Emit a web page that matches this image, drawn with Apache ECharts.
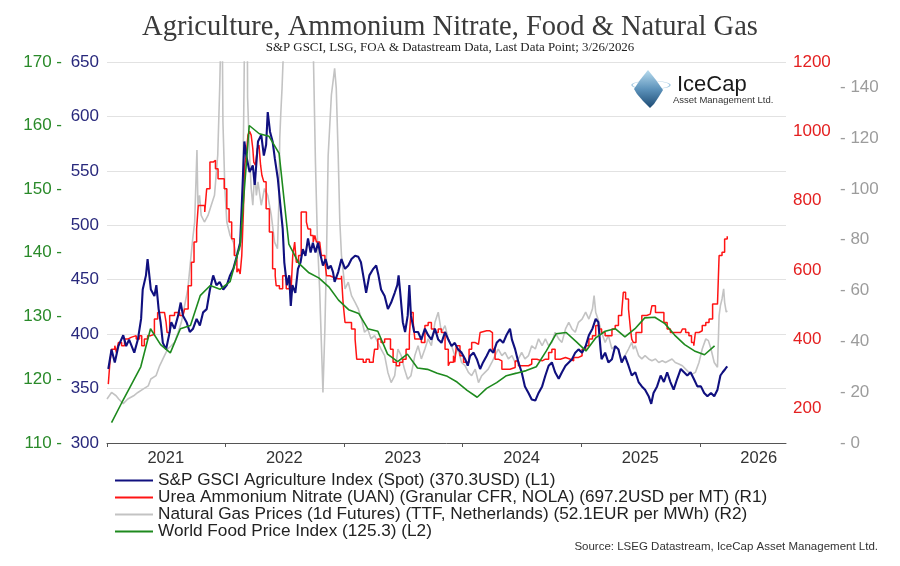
<!DOCTYPE html>
<html>
<head>
<meta charset="utf-8">
<script src="https://cdn.jsdelivr.net/npm/echarts@6/dist/echarts.min.js"></script>
<style>
html,body{margin:0;padding:0;background:#fff;}
#c{width:900px;height:566px;}
</style>
</head>
<body>
<div id="c"></div>
<script>
// ---------------- DATA ----------------
const seriesNames = [
  'S&P GSCI Agriculture Index (Spot) (370.3USD) (L1)',
  'Urea Ammonium Nitrate (UAN) (Granular CFR, NOLA) (697.2USD per MT) (R1)',
  'Natural Gas Prices (1d Futures) (TTF, Netherlands) (52.1EUR per MWh) (R2)',
  'World Food Price Index (125.3) (L2)'
];
const yearLabels = [2021, 2022, 2023, 2024, 2025, 2026];

const agriIndex = [
['2021-01-05',368],['2021-01-15',386],['2021-01-25',374],['2021-02-05',389],['2021-02-20',399],['2021-03-01',389],['2021-03-10',395],['2021-03-26',383],['2021-04-06',395],['2021-04-16',414],['2021-04-21',441],['2021-05-01',454],['2021-05-06',469],['2021-05-16',441],['2021-05-27',435],['2021-06-02',445],['2021-06-09',423],['2021-06-15',411],['2021-06-22',392],['2021-07-02',386],['2021-07-13',402],['2021-07-18',411],['2021-07-28',405],['2021-08-08',417],['2021-08-16',429],['2021-08-23',417],['2021-09-03',411],['2021-09-13',402],['2021-09-23',405],['2021-10-04',414],['2021-10-14',408],['2021-10-24',420],['2021-11-04',423],['2021-11-14',441],['2021-11-24',454],['2021-12-04',445],['2021-12-14',448],['2021-12-25',441],['2022-01-05',445],['2022-01-15',454],['2022-01-25',460],['2022-02-05',472],['2022-02-15',484],['2022-02-20',518],['2022-02-28',577],['2022-03-06',564],['2022-03-16',549],['2022-03-26',555],['2022-04-01',537],['2022-04-11',577],['2022-04-21',583],['2022-04-29',564],['2022-05-06',574],['2022-05-11',604],['2022-05-18',586],['2022-05-26',577],
['2022-06-02',561],['2022-06-11',543],['2022-06-19',518],['2022-06-26',497],['2022-07-01',466],['2022-07-09',445],['2022-07-16',454],['2022-07-21',426],['2022-07-26',445],['2022-08-04',438],['2022-08-12',460],['2022-08-20',466],['2022-08-27',478],['2022-09-04',472],['2022-09-12',488],['2022-09-20',475],['2022-09-27',484],['2022-10-05',475],['2022-10-13',484],['2022-10-21',472],['2022-10-28',463],['2022-11-05',469],['2022-11-13',460],['2022-11-21',463],['2022-11-28',457],['2022-12-03',448],['2022-12-14',457],['2022-12-24',469],['2023-01-04',460],['2023-01-14',463],['2023-01-24',469],['2023-02-04',472],['2023-02-14',471],['2023-02-22',466],['2023-03-01',454],['2023-03-10',438],['2023-03-20',454],['2023-04-01',460],['2023-04-10',463],['2023-04-17',454],['2023-04-25',441],['2023-05-06',435],['2023-05-16',423],['2023-05-26',429],['2023-06-06',438],['2023-06-14',445],['2023-06-18',454],['2023-06-24',435],['2023-07-01',411],['2023-07-08',402],['2023-07-16',417],['2023-07-21',445],['2023-07-26',417],['2023-08-05',402],['2023-08-17',402],['2023-08-27',395],['2023-09-07',405],['2023-09-17',399],['2023-09-27',395],['2023-10-08',405],['2023-10-18',395],['2023-10-28',392],['2023-11-08',402],['2023-11-18',395],['2023-11-28',389],['2023-12-08',392],['2023-12-18',386],['2023-12-29',383],
['2024-01-09',377],['2024-01-17',371],['2024-01-24',380],['2024-02-04',383],['2024-02-14',377],['2024-02-24',368],['2024-03-04',374],['2024-03-15',380],['2024-03-25',386],['2024-04-05',383],['2024-04-15',392],['2024-04-25',395],['2024-05-05',392],['2024-05-15',399],['2024-05-26',405],['2024-06-01',395],['2024-06-11',386],['2024-06-21',374],['2024-07-01',365],['2024-07-11',352],['2024-07-22',346],['2024-08-01',340],['2024-08-12',339],['2024-08-22',346],['2024-09-02',352],['2024-09-12',362],['2024-09-22',371],['2024-10-02',374],['2024-10-12',365],['2024-10-23',359],['2024-11-02',365],['2024-11-13',371],['2024-11-23',374],['2024-12-03',377],['2024-12-13',383],['2024-12-23',386],
['2025-01-03',383],['2025-01-14',389],['2025-01-24',399],['2025-02-04',405],['2025-02-14',414],['2025-02-22',411],['2025-03-01',386],['2025-03-04',377],['2025-03-15',383],['2025-03-25',374],['2025-04-05',377],['2025-04-15',389],['2025-04-25',386],['2025-05-05',374],['2025-05-15',380],['2025-05-26',371],['2025-06-05',362],['2025-06-16',365],['2025-06-26',356],['2025-07-06',352],['2025-07-16',349],['2025-07-27',343],['2025-08-04',336],['2025-08-11',346],['2025-08-22',352],['2025-09-02',362],['2025-09-12',356],['2025-09-22',365],['2025-10-02',356],['2025-10-12',349],['2025-10-23',359],['2025-11-03',368],['2025-11-13',365],['2025-11-23',362],['2025-12-03',365],['2025-12-13',359],['2025-12-24',352],['2026-01-04',352],['2026-01-14',346],['2026-01-24',343],['2026-02-04',346],['2026-02-14',343],['2026-02-24',349],['2026-03-05',362],['2026-03-12',365],['2026-03-20',368],['2026-03-26',370.3]
];

const uanPrice = [
['2021-01-05',270],['2021-01-10',333],['2021-01-15',371],['2021-01-25',381],['2021-01-30',361],['2021-02-05',390],['2021-02-15',381],['2021-02-24',400],['2021-03-06',405],['2021-03-16',410],['2021-04-01',400],['2021-04-11',410],['2021-04-18',381],['2021-04-26',400],['2021-05-06',410],['2021-05-16',414],['2021-05-27',458],['2021-06-06',477],['2021-06-17',477],['2021-06-27',472],['2021-07-02',448],['2021-07-05',419],['2021-07-13',468],['2021-07-28',477],['2021-08-13',468],['2021-08-23',463],['2021-08-28',487],['2021-09-08',554],['2021-09-18',622],['2021-09-26',680],['2021-10-04',718],['2021-10-09',786],['2021-10-19',786],['2021-10-29',767],['2021-11-04',834],['2021-11-14',911],['2021-11-24',916],['2021-12-01',892],['2021-12-09',863],['2021-12-19',863],['2021-12-28',834],
['2022-01-05',776],['2022-01-12',738],['2022-01-20',690],['2022-01-28',641],['2022-02-05',593],['2022-02-10',603],['2022-02-15',588],['2022-02-20',641],['2022-02-25',767],['2022-03-01',902],['2022-03-06',931],['2022-03-11',989],['2022-03-16',1000],['2022-03-21',989],['2022-03-26',950],['2022-03-29',911],['2022-04-03',902],['2022-04-09',950],['2022-04-14',960],['2022-04-19',902],['2022-04-23',873],['2022-04-29',854],['2022-05-06',776],['2022-05-16',709],['2022-05-26',603],['2022-06-03',583],['2022-06-06',554],['2022-06-16',545],['2022-06-26',583],['2022-07-07',545],['2022-07-17',583],['2022-07-22',545],['2022-07-27',641],['2022-08-02',680],['2022-08-07',622],['2022-08-14',641],['2022-08-22',767],['2022-08-27',767],['2022-09-07',738],['2022-09-12',718],['2022-09-20',699],['2022-09-28',680],['2022-10-03',699],['2022-10-08',680],['2022-10-18',680],['2022-10-23',641],['2022-11-03',622],['2022-11-08',583],['2022-11-18',579],['2022-11-28',579],['2022-12-03',574],['2022-12-14',574],['2022-12-24',583],['2022-12-29',506],
['2023-01-04',448],['2023-01-14',448],['2023-01-24',429],['2023-02-04',400],['2023-02-09',342],['2023-02-19',342],['2023-03-01',333],['2023-03-10',342],['2023-03-20',333],['2023-04-01',342],['2023-04-05',371],['2023-04-15',400],['2023-04-25',390],['2023-05-06',400],['2023-05-16',400],['2023-05-24',371],['2023-06-01',333],['2023-06-11',323],['2023-06-21',333],['2023-07-01',342],['2023-07-11',371],['2023-07-21',410],['2023-07-26',477],['2023-08-02',448],['2023-08-07',400],['2023-08-17',400],['2023-08-27',390],['2023-09-07',439],['2023-09-17',448],['2023-09-27',429],['2023-10-08',419],['2023-10-18',429],['2023-10-28',419],['2023-11-08',371],['2023-11-18',323],['2023-11-23',333],['2023-12-04',352],['2023-12-08',333],['2023-12-13',381],['2023-12-24',352],
['2024-01-04',333],['2024-01-14',333],['2024-01-21',371],['2024-01-29',390],['2024-02-09',385],['2024-02-19',390],['2024-02-24',419],['2024-02-29',424],['2024-03-15',424],['2024-03-25',419],['2024-04-02',371],['2024-04-10',342],['2024-04-20',337],['2024-05-01',313],['2024-05-11',313],['2024-05-26',318],['2024-06-11',337],['2024-06-21',323],['2024-07-06',323],['2024-07-22',328],['2024-08-01',342],['2024-08-17',337],['2024-09-02',342],['2024-09-12',342],['2024-09-22',361],['2024-10-02',371],['2024-10-12',342],['2024-10-28',347],['2024-11-13',342],['2024-11-28',337],['2024-12-08',347],['2024-12-23',352],
['2025-01-03',371],['2025-01-14',381],['2025-01-24',400],['2025-02-04',410],['2025-02-14',439],['2025-02-24',429],['2025-03-04',419],['2025-03-15',410],['2025-03-25',410],['2025-04-05',429],['2025-04-15',439],['2025-04-25',468],['2025-05-05',477],['2025-05-10',535],['2025-05-17',516],['2025-05-26',487],['2025-06-01',429],['2025-06-05',400],['2025-06-10',390],['2025-06-18',419],['2025-06-26',419],['2025-07-06',468],['2025-07-21',472],['2025-08-01',472],['2025-08-06',496],['2025-08-17',477],['2025-09-02',477],['2025-09-12',448],['2025-09-22',429],['2025-10-02',419],['2025-10-17',419],['2025-11-03',414],['2025-11-08',429],['2025-11-18',419],['2025-11-28',410],['2025-12-06',390],['2025-12-13',381],['2025-12-18',419],['2025-12-29',424],
['2026-01-08',439],['2026-01-19',448],['2026-01-29',458],['2026-02-09',501],['2026-02-24',501],['2026-03-01',641],['2026-03-10',651],['2026-03-18',689],['2026-03-26',697.2]
];

const ttfGas = [
['2021-01-01',17.3],['2021-01-15',19.9],['2021-01-29',18.6],['2021-02-06',17.3],['2021-02-20',15.5],['2021-03-06',17.3],['2021-03-24',18.6],['2021-04-06',19.9],['2021-04-22',21.2],['2021-05-08',22.5],['2021-05-16',25.2],['2021-06-01',26.5],['2021-06-12',30.4],['2021-06-27',34.4],['2021-07-07',37.0],['2021-07-18',38.3],['2021-07-28',39.6],['2021-08-08',43.6],['2021-08-18',47.5],['2021-08-28',54.1],['2021-09-07',60.7],['2021-09-15',71.2],['2021-09-22',80.4],['2021-09-28',87.0],['2021-10-05',115.3],['2021-10-08',93.6],['2021-10-13',97.5],['2021-10-18',89.6],['2021-10-28',87.0],['2021-11-08',89.6],['2021-11-18',93.6],['2021-11-28',97.5],['2021-12-08',113.3],['2021-12-14',139.6],['2021-12-21',180],['2021-12-24',126.5],['2021-12-30',100.2],
['2022-01-05',87.0],['2022-01-15',81.7],['2022-01-25',79.1],['2022-02-04',73.8],['2022-02-15',76.5],['2022-02-22',87.0],['2022-02-27',139.6],['2022-03-03',200],['2022-03-07',227],['2022-03-10',136],['2022-03-16',113.3],['2022-03-21',100.2],['2022-03-26',93.6],['2022-04-01',106.7],['2022-04-06',97.5],['2022-04-11',102.8],['2022-04-21',93.6],['2022-05-01',100.2],['2022-05-11',97.5],['2022-05-22',89.6],['2022-06-01',79.1],['2022-06-10',76.5],['2022-06-14',93.6],['2022-06-17',119.9],['2022-06-20',129.1],['2022-06-24',139.6],['2022-06-30',160],['2022-07-15',170],['2022-08-01',200],['2022-08-26',300],['2022-09-10',210],['2022-09-26',170],['2022-09-29',150],['2022-10-05',110],['2022-10-11',80],['2022-10-18',60],['2022-10-23',40],['2022-10-28',19.9],['2022-11-03',45],['2022-11-08',74],['2022-11-13',113],['2022-11-23',137],['2022-12-03',147.5],['2022-12-08',139.6],['2022-12-14',113],['2022-12-19',87],['2022-12-24',74],
['2023-01-04',60.7],['2023-01-14',63.3],['2023-01-24',58.0],['2023-02-04',55.4],['2023-02-14',52.8],['2023-02-24',48.8],['2023-03-05',43.6],['2023-03-15',44.9],['2023-03-25',41.0],['2023-04-05',42.3],['2023-04-15',39.6],['2023-04-25',37.0],['2023-05-06',34.4],['2023-05-16',27.8],['2023-05-26',23.8],['2023-06-06',26.5],['2023-06-16',37.0],['2023-06-26',34.4],['2023-07-06',29.1],['2023-07-16',25.1],['2023-07-26',26.5],['2023-08-07',34.4],['2023-08-17',38.3],['2023-08-27',33.1],['2023-09-07',37.0],['2023-09-17',41.0],['2023-09-27',38.3],['2023-10-08',47.5],['2023-10-18',51.5],['2023-10-28',43.6],['2023-11-08',46.2],['2023-11-18',41.0],['2023-11-28',38.3],['2023-12-08',34.4],['2023-12-18',37.0],['2023-12-29',31.7],
['2024-01-09',30.4],['2024-01-19',27.8],['2024-01-29',26.5],['2024-02-09',29.1],['2024-02-19',23.8],['2024-02-29',26.5],['2024-03-10',27.8],['2024-03-20',29.1],['2024-03-31',31.7],['2024-04-10',34.4],['2024-04-20',37.0],['2024-05-01',34.4],['2024-05-11',35.7],['2024-05-21',33.1],['2024-06-01',34.4],['2024-06-11',31.7],['2024-06-21',33.1],['2024-07-01',35.7],['2024-07-11',33.1],['2024-07-22',34.4],['2024-08-01',38.3],['2024-08-12',37.0],['2024-08-22',41.0],['2024-09-02',38.3],['2024-09-12',41.0],['2024-09-22',38.3],['2024-10-02',39.6],['2024-10-12',43.6],['2024-10-23',41.0],['2024-11-02',39.6],['2024-11-13',44.9],['2024-11-23',47.5],['2024-12-03',44.9],['2024-12-13',43.6],['2024-12-23',47.5],
['2025-01-03',48.8],['2025-01-14',51.5],['2025-01-24',48.8],['2025-02-04',52.8],['2025-02-09',58.0],['2025-02-14',51.5],['2025-02-24',47.5],['2025-03-04',43.6],['2025-03-15',39.6],['2025-03-25',42.3],['2025-04-05',37.0],['2025-04-15',38.3],['2025-04-25',37.0],['2025-05-05',31.7],['2025-05-15',34.4],['2025-05-26',37.0],['2025-06-05',39.6],['2025-06-10',37.0],['2025-06-16',38.3],['2025-06-26',34.4],['2025-07-06',33.1],['2025-07-16',34.4],['2025-07-27',33.1],['2025-08-06',32.4],['2025-08-17',33.1],['2025-08-27',31.7],['2025-09-07',32.4],['2025-09-17',31.7],['2025-09-27',32.4],['2025-10-07',33.1],['2025-10-17',31.7],['2025-10-28',31.1],['2025-11-08',30.4],['2025-11-18',29.1],['2025-11-28',27.8],['2025-12-08',27.1],['2025-12-18',27.8],['2025-12-29',31.7],
['2026-01-08',37.0],['2026-01-19',41.0],['2026-01-27',40.3],['2026-02-04',37.0],['2026-02-14',31.7],['2026-02-24',29.8],['2026-03-01',50.2],['2026-03-05',54.1],['2026-03-10',56.7],['2026-03-15',60.7],['2026-03-18',55.4],['2026-03-23',51.5],['2026-03-26',52.1]
];

const foodIndex = [
['2021-01-15',113.2],['2021-02-15',116.3],['2021-03-15',119.0],['2021-04-15',122.0],['2021-05-15',128.0],['2021-06-15',125.5],['2021-07-15',124.2],['2021-08-15',128.0],['2021-09-15',128.5],['2021-10-15',133.2],['2021-11-15',134.8],['2021-12-15',134.2],
['2022-01-15',135.4],['2022-02-15',141.2],['2022-03-15',160.0],['2022-04-15',158.7],['2022-05-15',158.3],['2022-06-15',155.6],['2022-07-15',141.3],['2022-08-15',138.3],['2022-09-15',136.8],['2022-10-15',136.0],['2022-11-15',134.6],['2022-12-15',132.5],
['2023-01-15',131.0],['2023-02-15',130.4],['2023-03-15',128.0],['2023-04-15',127.6],['2023-05-15',124.0],['2023-06-15',122.8],['2023-07-15',124.0],['2023-08-15',121.8],['2023-09-15',121.6],['2023-10-15',121.0],['2023-11-15',120.5],['2023-12-15',119.6],
['2024-01-15',118.3],['2024-02-15',117.2],['2024-03-15',118.6],['2024-04-15',119.5],['2024-05-15',120.6],['2024-06-15',121.0],['2024-07-15',121.4],['2024-08-15',122.0],['2024-09-15',124.5],['2024-10-15',127.2],['2024-11-15',127.4],['2024-12-15',126.0],
['2025-01-15',124.5],['2025-02-15',126.6],['2025-03-15',127.6],['2025-04-15',128.0],['2025-05-15',126.7],['2025-06-15',128.0],['2025-07-15',129.7],['2025-08-15',129.8],['2025-09-15',128.8],['2025-10-15',127.0],['2025-11-15',125.5],['2025-12-15',124.5],
['2026-01-15',123.9],['2026-02-15',125.3]
];

// ---------------- CHART ----------------
const NAVY = '#10107f', RED = '#ff1414', GRAY = '#c3c3c3', GREEN = '#1e8a1e';
function ts(s) { const p = s.split('-').map(Number); return Date.UTC(p[0], p[1] - 1, p[2]); }
const toXY = arr => arr.map(d => [ts(d[0]), d[1]]);
const yearStarts = yearLabels.map(y => Date.UTC(y, 0, 1));
const midYears = yearLabels.map(y => Date.UTC(y, 6, 1));

const chart = echarts.init(document.getElementById('c'), null, {renderer: 'canvas'});
chart.setOption({
  animation: false,
  backgroundColor: '#ffffff',
  textStyle: {fontFamily: 'Liberation Sans'},
  grid: {left: 107, right: 114, top: 62, bottom: 123, containLabel: false},
  graphic: [
    {type: 'text', left: 'center', top: 13,
     style: {text: 'Agriculture, Ammonium Nitrate, Food & Natural Gas', font: 'normal 28.5px "Liberation Serif"', fill: '#3a3a3a'}},
    {type: 'text', left: 'center', top: 41,
     style: {text: 'S&P GSCI, LSG, FOA & Datastream Data, Last Data Point; 3/26/2026', font: 'normal 12.9px "Liberation Serif"', fill: '#222'}},
    {type: 'text', right: 22, top: 541,
     style: {text: 'Source: LSEG Datastream, IceCap Asset Management Ltd.', font: 'normal 11.5px "Liberation Sans"', fill: '#333'}},
    {type: 'circle', shape: {cx: 0, cy: 0, r: 19}, x: 651, y: 85, scaleY: 0.22,
     style: {fill: 'none', stroke: '#a9cde3', lineWidth: 1.6}, z: 10},
    {type: 'polygon', z: 11,
     shape: {points: [[648,70],[656,80],[663,90],[658,98],[654,104],[650,108],[643,101],[637,94],[634,89],[640,80]]},
     style: {fill: {type: 'linear', x: 0, y: 0, x2: 0, y2: 1,
       colorStops: [{offset: 0, color: '#b7dbee'}, {offset: 0.5, color: '#5d93bb'}, {offset: 1, color: '#1d4b74'}]}}},
    {type: 'text', x: 677, y: 85, z: 11,
     style: {text: 'IceCap', font: 'normal 22px "Liberation Sans"', fill: '#1a1a1a', verticalAlign: 'middle'}},
    {type: 'text', x: 673, y: 100, z: 11,
     style: {text: 'Asset Management Ltd.', font: 'normal 9.5px "Liberation Sans"', fill: '#333', verticalAlign: 'middle'}}
  ],
  legend: {
    orient: 'vertical', left: 115, top: 472, padding: 0, itemGap: 0,
    icon: 'rect', itemWidth: 38, itemHeight: 2,
    textStyle: {fontSize: 17.2, lineHeight: 15.7, color: '#222', fontFamily: 'Liberation Sans'},
    data: seriesNames
  },
  xAxis: {
    type: 'value',
    min: Date.UTC(2021, 0, 1),
    max: Date.UTC(2026, 8, 23),
    axisLine: {show: true, onZero: false, lineStyle: {color: '#555', width: 1}},
    axisTick: {show: true, customValues: yearStarts, length: 4, lineStyle: {color: '#555'}},
    axisLabel: {customValues: midYears, formatter: v => String(new Date(v).getUTCFullYear()),
      fontSize: 16.5, color: '#333', margin: 7},
    splitLine: {show: false}
  },
  yAxis: [
    {type: 'value', position: 'left', min: 300, max: 650, interval: 50,
     axisLine: {show: false}, axisTick: {show: false},
     axisLabel: {color: '#28287c', fontSize: 17, margin: 8},
     splitLine: {show: true, lineStyle: {color: '#e2e2e2', width: 1.2}}},
    {type: 'value', position: 'left', min: 110, max: 170, interval: 10,
     axisLine: {show: false}, axisTick: {show: false},
     axisLabel: {color: '#2a8a2a', fontSize: 17, margin: 45, formatter: v => v + ' -'},
     splitLine: {show: false}},
    {type: 'value', position: 'right', min: 100, max: 1200, interval: 100,
     axisLine: {show: false}, axisTick: {show: false},
     axisLabel: {color: '#e42020', fontSize: 17, margin: 7, formatter: v => (v % 200 === 0 ? String(v) : '')},
     splitLine: {show: false}},
    {type: 'value', position: 'right', min: 0, max: 150, interval: 10,
     axisLine: {show: false}, axisTick: {show: false},
     axisLabel: {color: '#9c9c9c', fontSize: 17, margin: 54, formatter: v => (v % 20 === 0 ? '- ' + v : '')},
     splitLine: {show: false}}
  ],
  series: [
    {name: seriesNames[2], type: 'line', yAxisIndex: 3, data: toXY(ttfGas), showSymbol: false, symbol: 'none',
     color: GRAY, lineStyle: {color: GRAY, width: 1.6}, z: 2, clip: true},
    {name: seriesNames[1], type: 'line', yAxisIndex: 2, data: toXY(uanPrice), showSymbol: false, symbol: 'none', step: 'end',
     color: RED, lineStyle: {color: RED, width: 1.5}, z: 3, clip: true},
    {name: seriesNames[0], type: 'line', yAxisIndex: 0, data: toXY(agriIndex), showSymbol: false, symbol: 'none',
     color: NAVY, lineStyle: {color: NAVY, width: 2.1}, z: 4, clip: true},
    {name: seriesNames[3], type: 'line', yAxisIndex: 1, data: toXY(foodIndex), showSymbol: false, symbol: 'none',
     color: GREEN, lineStyle: {color: GREEN, width: 1.6}, z: 5, clip: true}
  ]
});
</script>
</body>
</html>
